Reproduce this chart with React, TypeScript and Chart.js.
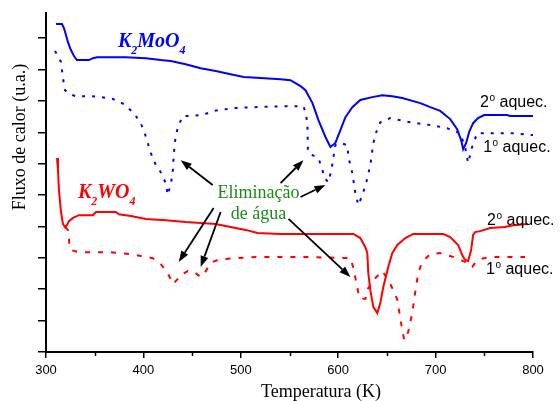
import React, { useEffect, useRef } from "react";
import { Chart, registerables } from "chart.js";

Chart.register(...registerables);

// ---- Data (temperature in K, heat flux in arbitrary units) ----
const mo2T = [310.2, 316.4, 318.4, 320.5, 322.5, 325.6, 328.7, 331.8, 344.1, 348.2, 352.3, 382.0, 402.5, 417.8, 428.1, 443.4, 458.8, 474.2, 489.5, 502.9, 520.3, 540.8, 551.0, 561.3, 566.4, 573.6, 579.7, 586.9, 592.0, 597.1, 602.3, 607.4, 614.5, 622.7, 635.0, 645.3, 655.5, 665.8, 684.2, 694.5, 704.7, 715.0, 722.1, 726.2, 728.3, 731.4, 734.4, 738.5, 743.6, 749.8, 773.4, 776.5, 800.0];
const mo2V = [10.45, 10.45, 10.32, 10.10, 9.87, 9.62, 9.43, 9.30, 9.30, 9.36, 9.39, 9.39, 9.36, 9.30, 9.27, 9.17, 9.04, 8.95, 8.85, 8.76, 8.73, 8.69, 8.66, 8.47, 8.34, 7.93, 7.39, 6.85, 6.53, 6.66, 7.07, 7.48, 7.80, 8.03, 8.12, 8.18, 8.15, 8.09, 7.93, 7.80, 7.68, 7.42, 7.10, 6.75, 6.46, 6.66, 7.01, 7.29, 7.45, 7.55, 7.55, 7.52, 7.52];

const mo1T = [309.2, 312.3, 315.4, 317.4, 319.5, 323.6, 330.7, 346.1, 356.4, 368.6, 379.9, 390.2, 397.3, 401.4, 407.6, 412.7, 417.8, 422.9, 425.0, 428.1, 430.1, 431.1, 433.2, 436.3, 440.4, 448.6, 460.9, 472.1, 492.6, 513.1, 543.9, 564.3, 566.4, 568.4, 568.9, 573.6, 579.7, 583.8, 585.9, 590.0, 593.0, 595.1, 597.1, 602.3, 609.4, 610.5, 614.5, 617.6, 620.7, 624.8, 628.9, 633.0, 636.1, 639.1, 643.2, 653.5, 674.0, 694.5, 711.9, 725.2, 730.3, 733.4, 737.5, 742.6, 752.9, 779.5, 800.0];
const mo1V = [9.59, 9.43, 9.24, 8.73, 8.34, 8.22, 8.15, 8.15, 8.12, 8.06, 7.90, 7.61, 7.29, 6.97, 6.34, 5.96, 5.73, 5.38, 5.00, 5.35, 5.70, 6.27, 6.91, 7.23, 7.52, 7.52, 7.55, 7.68, 7.77, 7.80, 7.83, 7.83, 7.64, 7.29, 6.37, 6.27, 6.18, 5.80, 5.54, 5.41, 5.80, 6.21, 6.59, 6.66, 6.59, 6.21, 5.70, 5.06, 4.68, 5.00, 5.41, 5.96, 6.66, 7.01, 7.32, 7.45, 7.32, 7.23, 7.13, 6.97, 6.53, 6.02, 6.53, 6.97, 6.97, 6.97, 6.91];

const w2T = [311.3, 312.3, 313.3, 315.4, 317.4, 319.5, 321.5, 323.6, 327.7, 333.8, 348.2, 351.2, 371.7, 374.8, 387.1, 402.5, 423.0, 443.4, 474.2, 489.5, 504.9, 517.2, 541.3, 615.6, 622.7, 627.9, 629.9, 630.9, 633.0, 636.1, 640.2, 643.2, 646.3, 651.4, 655.5, 660.7, 668.9, 677.0, 707.8, 715.0, 723.2, 727.3, 730.3, 733.4, 736.5, 738.5, 740.6, 745.7, 756.0, 771.3, 779.5, 794.9];
const w2V = [6.18, 5.80, 5.16, 4.46, 4.08, 3.98, 4.04, 4.17, 4.27, 4.36, 4.36, 4.46, 4.46, 4.39, 4.33, 4.24, 4.20, 4.14, 4.08, 3.98, 3.89, 3.79, 3.76, 3.76, 3.63, 3.34, 3.15, 2.52, 1.97, 1.43, 1.24, 1.56, 2.07, 2.71, 3.15, 3.41, 3.63, 3.76, 3.76, 3.66, 3.41, 3.09, 2.93, 2.90, 3.25, 3.73, 3.82, 3.85, 3.95, 3.98, 4.04, 4.08];

const w1T = [319.5, 322.5, 323.6, 324.0, 325.6, 333.8, 366.6, 387.1, 397.3, 409.6, 417.8, 425.0, 430.1, 434.2, 438.3, 445.5, 450.6, 458.8, 462.9, 466.0, 471.1, 476.2, 492.6, 520.3, 561.3, 612.5, 615.6, 617.6, 619.7, 621.7, 627.9, 630.9, 636.1, 645.3, 651.4, 656.6, 660.7, 663.7, 665.8, 667.8, 671.9, 676.0, 679.1, 682.2, 686.3, 694.5, 704.7, 718.0, 725.2, 730.3, 734.4, 737.5, 741.6, 745.7, 756.0, 791.8];
const w1V = [3.98, 3.89, 3.63, 3.34, 3.25, 3.18, 3.18, 3.12, 3.06, 2.99, 2.80, 2.52, 2.17, 2.29, 2.45, 2.58, 2.58, 2.39, 2.52, 2.68, 2.87, 2.93, 2.99, 3.03, 3.03, 2.99, 2.68, 2.36, 2.04, 1.72, 1.69, 2.04, 2.29, 2.58, 2.29, 1.97, 1.66, 1.08, 0.70, 0.38, 0.64, 1.24, 1.91, 2.52, 2.87, 3.12, 3.15, 3.03, 2.93, 2.87, 2.74, 2.71, 2.87, 2.96, 3.03, 3.03];

const xMinorTicks = [350, 450, 550, 650, 750];

// Annotation anchors in data coordinates [T, value]
const arrowTails = [[471.1, 5.32], [540.8, 5.38], [561.3, 4.94], [472.1, 4.59], [479.3, 4.46], [549.0, 4.24]];
const arrowHeads = [[438.3, 6.11], [564.3, 6.11], [586.9, 5.32], [436.3, 2.87], [458.8, 2.71], [612.5, 2.39]];

const moLabelAt = [373.8, 9.71];
const wLabelAt = [332.8, 4.90];
const elimLine1At = [518.2, 4.90];
const elimLine2At = [518.2, 4.24];
const heatLabels = [
  { n: "2", at: [745.7, 7.80] },
  { n: "1", at: [748.8, 6.37] },
  { n: "2", at: [752.9, 4.04] },
  { n: "1", at: [751.8, 2.48] },
];

const pts = (t: number[], v: number[]) => t.map((x, i) => ({ x, y: v[i] }));

const SERIF = '"Liberation Serif", "Times New Roman", serif';
const SANS = '"Liberation Sans", Arial, sans-serif';

function drawFormula(ctx: CanvasRenderingContext2D, parts: [string, boolean][], x: number, y: number, color: string) {
  let cx = x;
  ctx.fillStyle = color;
  ctx.textAlign = "left";
  ctx.textBaseline = "alphabetic";
  for (const [s, sub] of parts) {
    ctx.font = sub ? `italic bold 12px ${SERIF}` : `italic bold 20px ${SERIF}`;
    ctx.fillText(s, cx, sub ? y + 7 : y);
    cx += ctx.measureText(s).width;
  }
}

function drawHeat(ctx: CanvasRenderingContext2D, n: string, x: number, y: number) {
  ctx.fillStyle = "#000";
  ctx.textAlign = "left";
  ctx.textBaseline = "alphabetic";
  ctx.font = `16px ${SANS}`;
  ctx.fillText(n, x, y);
  let cx = x + ctx.measureText(n).width + 0.5;
  ctx.font = `10px ${SANS}`;
  ctx.fillText("o", cx, y - 6.5);
  cx += ctx.measureText("o").width;
  ctx.font = `16px ${SANS}`;
  ctx.fillText(" aquec.", cx, y);
}

function drawArrow(ctx: CanvasRenderingContext2D, x1: number, y1: number, x2: number, y2: number) {
  const a = Math.atan2(y2 - y1, x2 - x1);
  const L = 11, W = 4;
  const bx = x2 - L * Math.cos(a), by = y2 - L * Math.sin(a);
  ctx.strokeStyle = "#000";
  ctx.fillStyle = "#000";
  ctx.lineWidth = 1.8;
  ctx.beginPath();
  ctx.moveTo(x1, y1);
  ctx.lineTo(bx, by);
  ctx.stroke();
  ctx.beginPath();
  ctx.moveTo(x2, y2);
  ctx.lineTo(bx + W * Math.sin(a), by - W * Math.cos(a));
  ctx.lineTo(bx - W * Math.sin(a), by + W * Math.cos(a));
  ctx.closePath();
  ctx.fill();
}

const annotPlugin = {
  id: "annot",
  afterDraw(chart: any) {
    const ctx: CanvasRenderingContext2D = chart.ctx;
    const xs = chart.scales.x, ys = chart.scales.y;
    const px = (v: number) => xs.getPixelForValue(v);
    const py = (v: number) => ys.getPixelForValue(v);
    ctx.save();
    // minor ticks
    ctx.strokeStyle = "#000";
    ctx.lineWidth = 1.5;
    for (const v of xMinorTicks) {
      const X = Math.round(px(v)) + 0.5;
      ctx.beginPath();
      ctx.moveTo(X, ys.bottom);
      ctx.lineTo(X, ys.bottom + 4);
      ctx.stroke();
    }
    // formulas
    drawFormula(ctx, [["K", false], ["2", true], ["MoO", false], ["4", true]], px(moLabelAt[0]), py(moLabelAt[1]), "#0000ff");
    drawFormula(ctx, [["K", false], ["2", true], ["WO", false], ["4", true]], px(wLabelAt[0]), py(wLabelAt[1]), "#ff0000");
    // green label
    ctx.fillStyle = "#1a8a1a";
    ctx.font = `18px ${SERIF}`;
    ctx.textAlign = "center";
    ctx.textBaseline = "alphabetic";
    ctx.fillText("Eliminação", px(elimLine1At[0]), py(elimLine1At[1]));
    ctx.fillText("de água", px(elimLine2At[0]), py(elimLine2At[1]));
    // arrows
    arrowTails.forEach((t, i) => {
      const h = arrowHeads[i];
      drawArrow(ctx, px(t[0]), py(t[1]), px(h[0]), py(h[1]));
    });
    // heating labels
    for (const h of heatLabels) drawHeat(ctx, h.n, px(h.at[0]), py(h.at[1]));
    // axis titles
    ctx.fillStyle = "#000";
    ctx.font = `18px ${SERIF}`;
    ctx.textAlign = "center";
    ctx.textBaseline = "alphabetic";
    ctx.fillText("Temperatura (K)", 321, 397);
    ctx.save();
    ctx.translate(25, 137);
    ctx.rotate(-Math.PI / 2);
    ctx.fillText("Fluxo de calor (u.a.)", 0, 0);
    ctx.restore();
    ctx.restore();
  },
};

export default function App() {
  const ref = useRef<HTMLCanvasElement | null>(null);
  useEffect(() => {
    if (!ref.current) return;
    const line = (data: any[], color: string, dash?: number[]) => ({
      data,
      borderColor: color,
      borderWidth: 2,
      borderDash: dash || [],
      pointRadius: 0,
      fill: false,
      tension: 0,
    });
    const chart = new Chart(ref.current, {
      type: "line",
      data: {
        datasets: [
          line(pts(mo2T, mo2V), "#0000ff"),
          line(pts(mo1T, mo1V), "#0000ff", [3, 7]),
          line(pts(w2T, w2V), "#ff0000"),
          line(pts(w1T, w1V), "#ff0000", [5, 8]),
        ] as any,
      },
      options: {
        animation: false,
        responsive: false,
        maintainAspectRatio: false,
        devicePixelRatio: 1,
        layout: { padding: { top: 13, right: 27, left: 0, bottom: 0 } },
        plugins: { legend: { display: false }, tooltip: { enabled: false }, title: { display: false } },
        scales: {
          x: {
            type: "linear",
            min: 300,
            max: 800,
            afterFit: (s: any) => { s.height = 49; },
            ticks: { stepSize: 100, color: "#000", font: { family: SANS, size: 13 }, padding: 5, maxRotation: 0, autoSkip: false },
            grid: { drawOnChartArea: false, drawTicks: true, tickLength: 6, color: "#000", lineWidth: 1.5 },
            border: { color: "#000", width: 2 },
          },
          y: {
            type: "linear",
            min: 0,
            max: 10.8,
            afterFit: (s: any) => { s.width = 46; },
            ticks: { stepSize: 1, includeBounds: false, callback: () => "", padding: 0 },
            grid: { drawOnChartArea: false, drawTicks: true, tickLength: 8, color: "#000", lineWidth: 1.5 },
            border: { color: "#000", width: 2 },
          },
        },
      } as any,
      plugins: [annotPlugin],
    });
    return () => chart.destroy();
  }, []);
  return (
    <div style={{ position: "fixed", left: 0, top: 0, width: 560, height: 401, background: "#fff" }}>
      <canvas ref={ref} width={560} height={401} style={{ display: "block" }} />
    </div>
  );
}
